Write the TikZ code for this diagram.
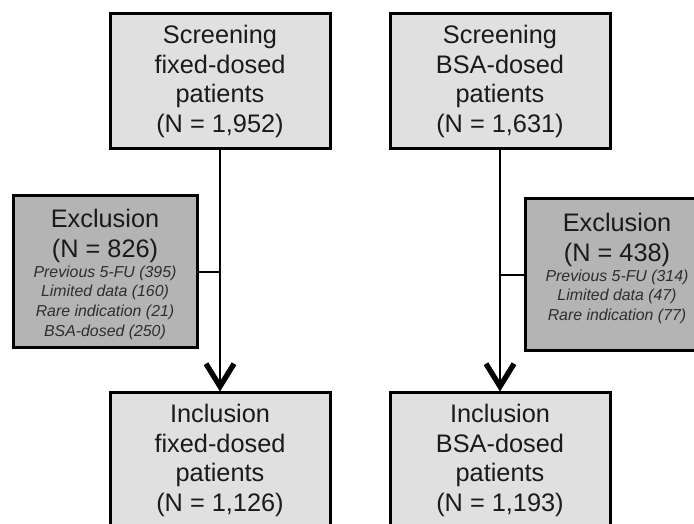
\documentclass[tikz,border=0pt]{standalone}
\usepackage{fontspec}
\setmainfont{Liberation Sans}
\usetikzlibrary{arrows.meta}
\definecolor{lightbox}{HTML}{E0E0E0}
\definecolor{darkbox}{HTML}{B4B4B4}
\definecolor{txt}{HTML}{1A1A1A}
\definecolor{smalltxt}{HTML}{2E2E2E}
\tikzset{
  bigbox/.style={draw=black, line width=2.25pt, fill=lightbox, minimum width=165pt, minimum height=101.25pt,
    inner sep=0pt, align=center, text=txt, font=\fontsize{19}{22.4}\selectfont},
  exbox/.style={draw=black, line width=2.25pt, fill=darkbox, minimum width=138pt, minimum height=114pt, inner sep=0pt},
  extitle/.style={anchor=north, inner sep=0pt, align=center, text=txt, font=\fontsize{19}{23}\selectfont},
  exlist/.style={anchor=north, inner sep=0pt, align=center, text=smalltxt, font=\fontsize{11.9}{14.8}\selectfont\itshape},
  conn/.style={draw=black, line width=1.9pt},
  arr/.style={conn, -{Straight Barb[length=17pt, width=21pt, line width=4pt]}}
}
\begin{document}
\begin{tikzpicture}[x=0.75pt, y=-0.75pt]
\useasboundingbox (0,0) rectangle (694,524);
\clip (0,0) rectangle (694,524);
\fill[white] (0,0) rectangle (694,524);

\node[bigbox] (tl) at (220,81.5) {Screening\\fixed-dosed\\patients\\(N = 1,952)};
\node[bigbox] (tr) at (500,81.5) {Screening\\BSA-dosed\\patients\\(N = 1,631)};
\node[bigbox] (bl) at (220,460.5) {Inclusion\\fixed-dosed\\patients\\(N = 1,126)};
\node[bigbox] (br) at (500,460.5) {Inclusion\\BSA-dosed\\patients\\(N = 1,193)};

\node[exbox] (el) at (105,272) {};
\node[exbox] (er) at (617,275) {};

\node[extitle] (elt) at ([yshift=-10.5pt]el.north) {Exclusion\\(N = 826)};
\node[exlist] (ell) at ([yshift=-53.25pt]el.north) {Previous 5-FU (395)\\Limited data (160)\\Rare indication (21)\\BSA-dosed (250)};
\node[extitle] (ert) at ([yshift=-11.25pt]er.north) {Exclusion\\(N = 438)};
\node[exlist] (erl) at ([yshift=-54pt]er.north) {Previous 5-FU (314)\\Limited data (47)\\Rare indication (77)};

\draw[arr] (tl.south) -- (bl.north);
\draw[arr] (tr.south) -- (br.north);
\draw[conn] (el.east) -- (el.east -| tl.south);
\draw[conn] (er.west) -- (er.west -| tr.south);
\end{tikzpicture}
\end{document}
